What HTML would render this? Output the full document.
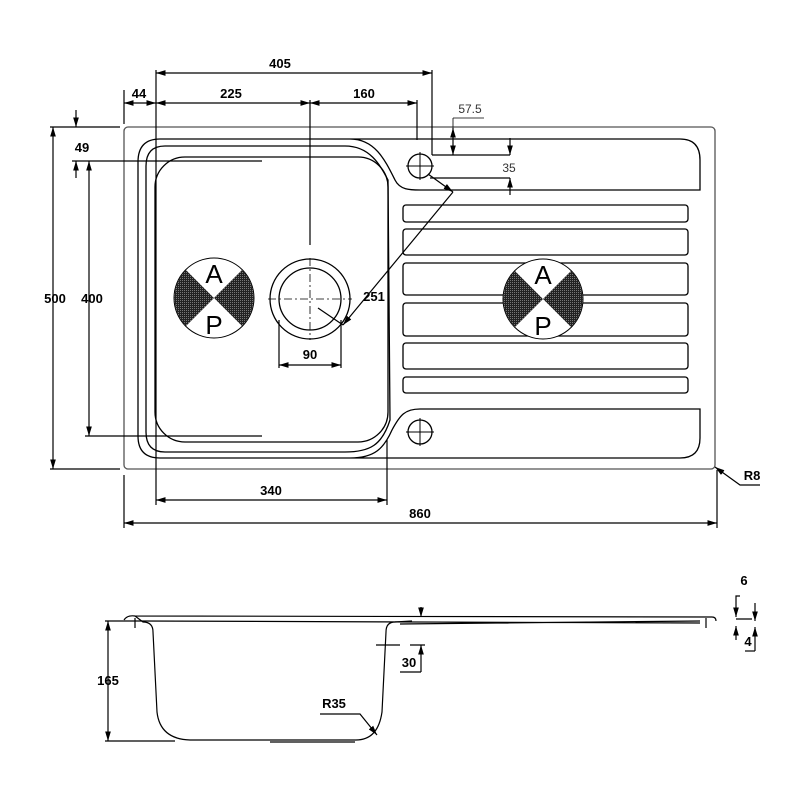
<!DOCTYPE html>
<html><head><meta charset="utf-8"><style>
html,body{margin:0;padding:0;background:#fff}
svg{display:block}
text{font-family:"Liberation Sans",sans-serif;font-weight:bold;font-size:13px;fill:#000}
</style></head><body>
<svg width="800" height="800" viewBox="0 0 800 800" xmlns="http://www.w3.org/2000/svg">
<defs>
<marker id="a" viewBox="0 0 10 10" refX="10" refY="5" markerWidth="8" markerHeight="8" orient="auto-start-reverse"><path d="M0,2 L10,5 L0,8z" fill="#000"/></marker>
<pattern id="dots" width="2" height="2" patternUnits="userSpaceOnUse"><rect width="2" height="2" fill="#222"/><rect width="1" height="1" fill="#777"/></pattern>
</defs>
<g fill="none" stroke="#000" stroke-width="1.3">
<rect x="124" y="127" width="591" height="342" rx="4" stroke="#555"/>
<path d="M160,139 L350,139 C375,139 385,160 395,180 C400,190 410,190 420,190 L700,190 L700,160 Q700,139 680,139 L160,139 Q138,139 138,162 L138,436 Q138,458 160,458 L680,458 Q700,458 700,438 L700,409 L420,409 C405,409 400,415 392,430 C384,448 375,458 350,458"/>
<path d="M165,146 L345,146 C370,146 380,165 388,180 L390,420 C382,445 370,452 345,452 L165,452 Q146,452 146,432 L146,166 Q146,146 165,146z"/>
<rect x="155" y="157" width="233" height="285" rx="30"/>
<rect x="403" y="205" width="285" height="17" rx="3"/>
<rect x="403" y="229" width="285" height="26" rx="3"/>
<rect x="403" y="263" width="285" height="32" rx="3"/>
<rect x="403" y="303" width="285" height="33" rx="3"/>
<rect x="403" y="343" width="285" height="26" rx="3"/>
<rect x="403" y="377" width="285" height="16" rx="3"/>
<circle cx="420" cy="166" r="12"/><path d="M420,152 V180 M406,166 H434" stroke-width="1"/>
<circle cx="420" cy="432" r="12"/><path d="M420,418 V446 M406,432 H434" stroke-width="1"/>
<circle cx="310" cy="299" r="40"/><circle cx="310" cy="299" r="31"/>
<path d="M268,299 H352 M310,258 V340" stroke-dasharray="8,3,2,3" stroke-width="0.8"/>
</g>
<g>
<circle cx="214" cy="298" r="40" fill="#fff" stroke="#000"/>
<path d="M214,298 L186,270 A40,40 0 0 0 186,326 Z M214,298 L242,270 A40,40 0 0 1 242,326 Z" fill="url(#dots)"/>
<text x="214" y="283" text-anchor="middle" style="font-weight:normal;font-size:26px">A</text>
<text x="214" y="334" text-anchor="middle" style="font-weight:normal;font-size:26px">P</text>
<circle cx="543" cy="299" r="40" fill="#fff" stroke="#000"/>
<path d="M543,299 L515,271 A40,40 0 0 0 515,327 Z M543,299 L571,271 A40,40 0 0 1 571,327 Z" fill="url(#dots)"/>
<text x="543" y="284" text-anchor="middle" style="font-weight:normal;font-size:26px">A</text>
<text x="543" y="335" text-anchor="middle" style="font-weight:normal;font-size:26px">P</text>
</g>
<g stroke="#000" stroke-width="1.2" fill="none">
<path d="M156,73 H432" marker-start="url(#a)" marker-end="url(#a)"/>
<path d="M156,103 H310" marker-start="url(#a)" marker-end="url(#a)"/>
<path d="M310,103 H417" marker-start="url(#a)" marker-end="url(#a)"/>
<path d="M124,103 H156" marker-start="url(#a)" marker-end="url(#a)"/>
<path d="M156,70 V505 M124,90 V124 M310,100 V245 M417,100 V140 M432,70 V155"/>
<path d="M156,500 H387" marker-start="url(#a)" marker-end="url(#a)"/>
<path d="M387,440 V505"/>
<path d="M124,523 H717" marker-start="url(#a)" marker-end="url(#a)"/>
<path d="M124,475 V528 M717,470 V528"/>
<path d="M53,127 V469" marker-start="url(#a)" marker-end="url(#a)"/>
<path d="M50,127 H120 M50,469 H120"/>
<path d="M89,161 V436" marker-start="url(#a)" marker-end="url(#a)"/>
<path d="M72,161 H262 M85,436 H262"/>
<path d="M76,110 V127" marker-end="url(#a)"/><path d="M76,178 V161" marker-end="url(#a)"/>
<path d="M432,155 H510 M430,178 H510"/>
<path d="M510,138 V155" marker-end="url(#a)"/><path d="M510,195 V178" marker-end="url(#a)"/>
<path d="M453,118 H484 M453,118 V155 M435,155 H453" stroke-width="0.8"/>
<path d="M453,128 V155" marker-start="url(#a)" marker-end="url(#a)"/>
<path d="M428,174 L453,192" marker-end="url(#a)"/>
<path d="M343,325 L453,192" marker-start="url(#a)"/>
<path d="M318,308 L343,325"/>
<path d="M279,320 V368 M341,320 V368"/>
<path d="M279,365 H341" marker-start="url(#a)" marker-end="url(#a)"/>
<path d="M760,485 H740 L715,467" marker-end="url(#a)"/>
</g>
<g>
<text x="280" y="68" text-anchor="middle">405</text>
<text x="231" y="98" text-anchor="middle">225</text>
<text x="364" y="98" text-anchor="middle">160</text>
<text x="139" y="98" text-anchor="middle">44</text>
<text x="82" y="152" text-anchor="middle">49</text>
<text x="55" y="303" text-anchor="middle">500</text>
<text x="92" y="303" text-anchor="middle">400</text>
<text x="470" y="113" text-anchor="middle" style="font-weight:normal;font-size:12px;fill:#333">57.5</text>
<text x="509" y="172" text-anchor="middle" style="font-weight:normal;font-size:12px;fill:#333">35</text>
<text x="374" y="301" text-anchor="middle">251</text>
<text x="310" y="359" text-anchor="middle">90</text>
<text x="271" y="495" text-anchor="middle">340</text>
<text x="420" y="518" text-anchor="middle">860</text>
<text x="752" y="480" text-anchor="middle">R8</text>
</g>
<g fill="none" stroke="#000" stroke-width="1.2">
<path d="M124,620 Q127,615 135,616 L712,617 Q716,617 716,621"/>
<path d="M140,621 L700,623 M400,624 L700,621"/>
<path d="M135,616 L143,622 Q153,622 153,632 L157,712 Q160,739 190,740 L356,740 Q378,740 382,712 L386,632 Q386,622 395,622 L412,621"/>
<path d="M270,742 H355"/>
<path d="M135,618 V628 M706,618 V628 M736,619 H752"/>
<path d="M108,621 V741" marker-start="url(#a)" marker-end="url(#a)"/>
<path d="M105,621 H140 M105,741 H175"/>
<path d="M421,607 V617" marker-end="url(#a)"/>
<path d="M421,672 V645" marker-end="url(#a)"/>
<path d="M376,645 H400 M410,645 H425 M400,672 H421"/>
<path d="M320,714 H360 L377,735" marker-end="url(#a)"/>
<path d="M740,596 H736 V617" marker-end="url(#a)"/>
<path d="M736,640 V626" marker-end="url(#a)"/>
<path d="M755,603 V621" marker-end="url(#a)"/>
<path d="M755,651 V627" marker-end="url(#a)"/>
<path d="M745,651 H755"/>
</g>
<g>
<text x="108" y="685" text-anchor="middle">165</text>
<text x="409" y="667" text-anchor="middle">30</text>
<text x="334" y="708" text-anchor="middle">R35</text>
<text x="744" y="585" text-anchor="middle">6</text>
<text x="748" y="646" text-anchor="middle">4</text>
</g>
</svg>
</body></html>
